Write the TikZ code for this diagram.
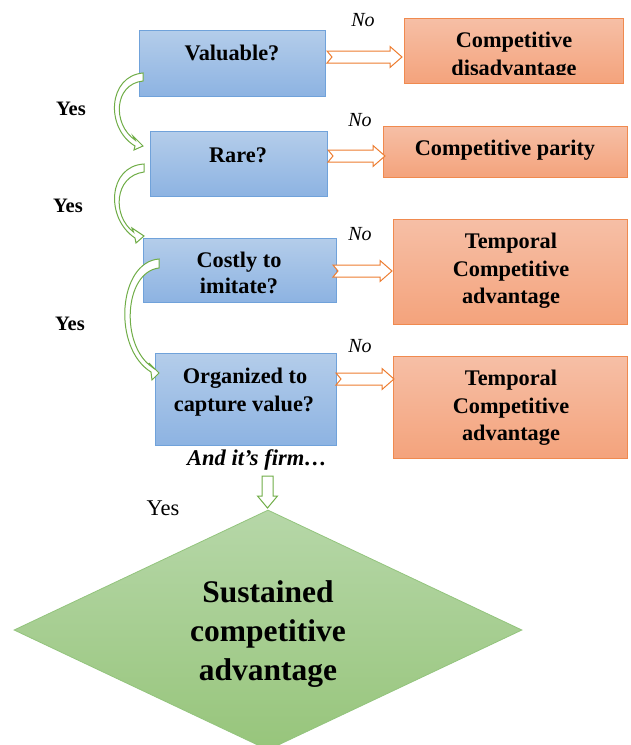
\documentclass[tikz,border=0pt]{standalone}
\usepackage{fontspec}
\setmainfont{Liberation Serif}
\usetikzlibrary{shapes.geometric,calc}
\definecolor{bluetop}{HTML}{B4CDEA}
\definecolor{bluebot}{HTML}{8DB3E2}
\definecolor{blueline}{HTML}{70A2DA}
\definecolor{ortop}{HTML}{F6BFA6}
\definecolor{orbot}{HTML}{F4A37C}
\definecolor{orline}{HTML}{F08A4F}
\definecolor{grtop}{HTML}{B6D7A8}
\definecolor{grbot}{HTML}{97C57B}
\definecolor{grline}{HTML}{93C47D}
\definecolor{grarrow}{HTML}{70AD47}
\definecolor{orarrowc}{HTML}{ED7D31}
\tikzset{
  bbox/.style={rectangle, draw=blueline, line width=0.8pt, top color=bluetop, bottom color=bluebot, inner sep=0pt},
  obox/.style={rectangle, draw=orline, line width=0.8pt, top color=ortop, bottom color=orbot, inner sep=0pt},
  btxt/.style={anchor=base, inner sep=0pt, font=\fontsize{22.3}{26}\selectfont\bfseries},
  notxt/.style={anchor=base, inner sep=0pt, font=\fontsize{20}{24}\selectfont\itshape},
  yestxt/.style={anchor=base, inner sep=0pt, font=\fontsize{20.5}{24}\selectfont\bfseries},
  orarrow/.style={draw=orarrowc, fill=white, line width=1pt, line join=miter},
  grarrowst/.style={draw=grarrow, fill=white, line width=1pt, line join=miter},
}
\newcommand\hblockarrow[2]{%
  \draw[orarrow] let \p1=(#1), \p2=(#2) in
    (\x1,\y1+6pt) -- (\x2-12pt,\y1+6pt) -- (\x2-12pt,\y1+10.5pt) -- (\x2,\y1)
    -- (\x2-12pt,\y1-10.5pt) -- (\x2-12pt,\y1-6pt) -- (\x1,\y1-6pt) -- (\x1+5pt,\y1) -- cycle;}
\begin{document}
\begin{tikzpicture}[x=1pt,y=-1pt]
\useasboundingbox (0,0) rectangle (630,745);
% blue question boxes
\node[bbox, minimum width=186, minimum height=66] (v1) at (232,63) {};
\node[bbox, minimum width=177, minimum height=65] (v2) at (238.5,163.5) {};
\node[bbox, minimum width=193, minimum height=64] (v3) at (239.5,270) {};
\node[bbox, minimum width=181, minimum height=92] (v4) at (245.5,399) {};
\node[btxt] (t1) at (232,60) {Valuable?};
\node[btxt] (t2) at (238,162) {Rare?};
\node[btxt] (t3a) at (239,267) {Costly to};
\node[btxt] (t3b) at (239,293) {imitate?};
\node[btxt] (t4a) at (245,383) {Organized to};
\node[btxt] (t4b) at (244,411) {capture value?};
% orange outcome boxes
\node[obox, minimum width=219, minimum height=65] (o1) at (513.5,50.5) {};
\node[obox, minimum width=244, minimum height=51] (o2) at (505,151.5) {};
\node[obox, minimum width=234, minimum height=105] (o3) at (510,271.5) {};
\node[obox, minimum width=234, minimum height=102] (o4) at (510,407) {};
\begin{scope}
  \clip (404,18) rectangle (623,74);
  \node[btxt] (u1a) at (514,47.5) {Competitive};
  \node[btxt] (u1b) at (514,75) {disadvantage};
\end{scope}
\node[btxt] (u2) at (505,155) {Competitive parity};
\node[btxt] (u3a) at (511,248) {Temporal};
\node[btxt] (u3b) at (511,276) {Competitive};
\node[btxt] (u3c) at (511,303) {advantage};
\node[btxt] (u4a) at (511,385) {Temporal};
\node[btxt] (u4b) at (511,413) {Competitive};
\node[btxt] (u4c) at (511,440) {advantage};
% No labels
\node[notxt] (n1) at (363,26) {No};
\node[notxt] (n2) at (360,126) {No};
\node[notxt] (n3) at (360,240) {No};
\node[notxt] (n4) at (360,352) {No};
% Yes labels
\node[yestxt] (y1) at (71,115) {Yes};
\node[yestxt] (y2) at (68,212) {Yes};
\node[yestxt] (y3) at (70,330) {Yes};
% orange block arrows
\coordinate (a1s) at (327,57);  \coordinate (a1e) at (402,57);
\coordinate (a2s) at (328,156); \coordinate (a2e) at (385,156);
\coordinate (a3s) at (333,271); \coordinate (a3e) at (392,271);
\coordinate (a4s) at (336,379); \coordinate (a4e) at (394,379);
\hblockarrow{a1s}{a1e}
\hblockarrow{a2s}{a2e}
\hblockarrow{a3s}{a3e}
\hblockarrow{a4s}{a4e}
% green curved arrows
\draw[grarrowst] (143,73) .. controls (108,76) and (105,128) .. (135,146)
  -- (134,150) -- (143,146) -- (133,136) -- (135,140)
  .. controls (112,124) and (114,84) .. (143,81) -- cycle;
\draw[grarrowst] (144,164) .. controls (108,166) and (105,218) .. (135,238)
  -- (136,243) -- (144,236) -- (132,228) -- (133.5,232)
  .. controls (112,216) and (114,176) .. (144,172) -- cycle;
\draw[grarrowst] (159,259) .. controls (118,262) and (112,348) .. (151,372)
  -- (152,380) -- (159,373) -- (149,363) -- (152,367)
  .. controls (120,345) and (124,272) .. (159,268) -- cycle;
% bottom part
\node[anchor=base, inner sep=0pt, font=\fontsize{22.5}{26}\selectfont\bfseries\itshape] (firm) at (257,465) {And it{\char"27}s firm\ldots};
\node[anchor=base, inner sep=0pt, font=\fontsize{22.5}{26}\selectfont] (y4) at (163,515) {Yes};
\node[diamond, draw=grline, line width=0.8pt, top color=grtop, bottom color=grbot,
      minimum width=508, minimum height=240, inner sep=0pt] (sca) at (268,630) {};
\draw[grarrowst] (262,476) -- (273,476) -- (273,496) -- (277.5,496) -- (267.5,508)
  -- (257.5,496) -- (262,496) -- cycle;
\node[anchor=base, inner sep=0pt, font=\fontsize{31.5}{36}\selectfont\bfseries] (s1) at (268,602) {Sustained};
\node[anchor=base, inner sep=0pt, font=\fontsize{31.5}{36}\selectfont\bfseries] (s2) at (268,641) {competitive};
\node[anchor=base, inner sep=0pt, font=\fontsize{31.5}{36}\selectfont\bfseries] (s3) at (268,680) {advantage};
\end{tikzpicture}
\end{document}
